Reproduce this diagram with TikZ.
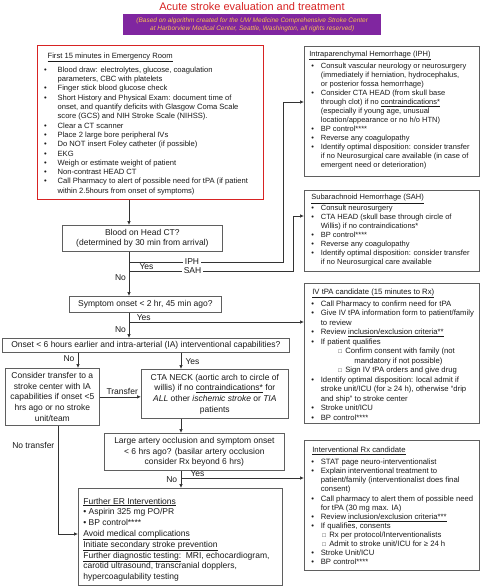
\documentclass[tikz,border=0pt]{standalone}
\usepackage{fontspec}
\setmainfont{Liberation Sans}
\usepackage{enumitem}
\usetikzlibrary{arrows.meta}
\definecolor{strokered}{RGB}{215,35,35}
\definecolor{notepurple}{RGB}{128,38,160}
\definecolor{noteorange}{RGB}{245,190,85}
\definecolor{boxgray}{RGB}{95,95,95}
\newlist{blist}{itemize}{2}
\setlist[blist]{nosep,labelsep=0pt,align=left,leftmargin=!}
\setlist[blist,1]{label=\textbullet,labelindent=4pt,labelwidth=9.5pt}
\setlist[blist,2]{label={\fontsize{6}{6}\selectfont □},labelindent=17.5pt,labelwidth=7pt}
% width, height, top gap, body
\newcommand{\boxbody}[4]{\begin{minipage}[c][#2][t]{#1}\rightskip=-30pt plus 1fil\parfillskip=0pt plus 1fil\vspace*{#3}#4\end{minipage}}
\tikzset{listbox/.style={draw=boxgray,line width=0.7pt,anchor=north west,inner xsep=3pt,inner ysep=0pt,text=black!90},cbox/.style={draw=boxgray,line width=0.7pt,anchor=north west,align=center,inner sep=0pt,text=black!90,font=\fontsize{8.5}{10.7}\selectfont},lbl/.style={font=\fontsize{8.5}{10}\selectfont,inner sep=0.5pt,text=black!90},arrow/.style={-{Latex[length=4pt,width=3.5pt]},draw=black!80,line width=0.7pt}}

\begin{document}
\begin{tikzpicture}[x=1pt,y=-1pt]
\useasboundingbox (0,0) rectangle (480,587);
\node[font=\fontsize{11}{12}\selectfont,text=strokered,inner sep=0pt] (title) at (252,6.5) {Acute stroke evaluation and treatment};
\node[anchor=north west,fill=notepurple,text=noteorange,minimum width=258pt,minimum height=21pt,inner sep=0pt,align=center,font=\fontsize{6.5}{7.6}\selectfont\itshape] (note) at (123,14) {(Based on algorithm created for the UW Medicine Comprehensive Stroke Center\\at Harborview Medical Center, Seattle, Washington, all rights reserved)};
% first hour, left column
\node[listbox,draw=strokered,line width=1.3pt,font=\fontsize{7.6}{9.3}\selectfont] (er) at (37,45) {\boxbody{220pt}{154pt}{7.2pt}{\hspace*{7pt}\underline{First 15 minutes in Emergency Room}\par\vspace{4.7pt}
\begin{blist}[labelindent=3.5pt,labelwidth=13.5pt]
\item Blood draw: electrolytes, glucose, coagulation\\parameters, CBC with platelets
\item Finger stick blood glucose check
\item Short History and Physical Exam: document time of\\onset, and quantify deficits with Glasgow Coma Scale\\score (GCS) and NIH Stroke Scale (NIHSS).
\item Clear a CT scanner
\item Place 2 large bore peripheral IVs
\item Do NOT insert Foley catheter (if possible)
\item EKG
\item Weigh or estimate weight of patient
\item Non-contrast HEAD CT
\item Call Pharmacy to alert of possible need for tPA (if patient\\within 2.5hours from onset of symptoms)
\end{blist}}};
\node[cbox,minimum width=160pt,minimum height=26pt] (ct) at (62,225) {Blood on Head CT?\\(determined by 30 min from arrival)};
\node[cbox,minimum width=152pt,minimum height=16pt] (onset) at (69,296) {Symptom onset < 2 hr, 45 min ago?};
\node[cbox,minimum width=287pt,minimum height=14pt] (ia) at (2,338) {Onset < 6 hours earlier and intra-arterial (IA) interventional capabilities?};
\node[cbox,minimum width=94pt,minimum height=57pt] (transfer) at (5,368) {Consider transfer to a\\stroke center with IA\\capabilities if onset <5\\hrs ago or no stroke\\unit/team};
\node[cbox,minimum width=147pt,minimum height=49pt] (cta) at (141,369) {CTA NECK (aortic arch to circle of\\willis) if no \underline{contraindications*} for\\\textit{ALL} other \textit{ischemic stroke} or \textit{TIA}\\patients};
\node[cbox,minimum width=180pt,minimum height=37pt] (large) at (104,433) {Large artery occlusion and symptom onset\\< 6 hrs ago? (basilar artery occlusion\\consider Rx beyond 6 hrs)};
\node[listbox,inner xsep=5pt,font=\fontsize{8.5}{10.8}\selectfont] (er2) at (78,488) {\boxbody{194pt}{97pt}{9.6pt}{\underline{Further ER Interventions}\\
\textbullet\ Aspirin 325 mg PO/PR\\
\textbullet\ BP control****\\
\underline{Avoid medical complications}\\
\underline{Initiate secondary stroke prevention}\\
\underline{Further diagnostic testing:}\ \ MRI, echocardiogram,\\
carotid ultrasound, transcranial dopplers,\\
hypercoagulability testing}};
% right column
\node[listbox,font=\fontsize{7.5}{9}\selectfont] (iph) at (304,46) {\boxbody{169pt}{130pt}{4.5pt}{\hspace*{2pt}\underline{Intraparenchymal Hemorrhage (IPH)}\par\vspace{3.4pt}
\begin{blist}
\item Consult vascular neurology or neurosurgery\\(immediately if herniation, hydrocephalus,\\or posterior fossa hemorrhage)
\item Consider CTA HEAD (from skull base\\through clot) if no \underline{contraindications*}\\(especially if young age, unusual\\location/appearance or no h/o HTN)
\item BP control****
\item Reverse any coagulopathy
\item Identify optimal disposition: consider transfer\\if no Neurosurgical care available (in case of\\emergent need or deterioration)
\end{blist}}};
\node[listbox,font=\fontsize{7.5}{9}\selectfont] (sah) at (304,190) {\boxbody{169pt}{81pt}{4.2pt}{\hspace*{4pt}\underline{Subarachnoid Hemorrhage (SAH)}\par\vspace{1.5pt}
\begin{blist}
\item Consult neurosurgery
\item CTA HEAD (skull base through circle of\\Willis) if no contraindications*
\item BP control****
\item Reverse any coagulopathy
\item Identify optimal disposition: consider transfer\\if no Neurosurgical care available
\end{blist}}};
\node[listbox,font=\fontsize{7.7}{9.5}\selectfont] (tpa) at (304,283) {\boxbody{169pt}{140pt}{5.2pt}{\hspace*{5pt}\underline{IV tPA candidate (15 minutes to Rx)}\par\vspace{2.5pt}
\begin{blist}
\item Call Pharmacy to confirm need for tPA
\item Give IV tPA information form to patient/family\\to review
\item Review \underline{inclusion/exclusion criteria**}
\item If patient qualifies
\begin{blist}
\item Confirm consent with family (not\\\hspace*{9pt}mandatory if not possible)
\item Sign IV tPA orders and give drug
\end{blist}
\item Identify optimal disposition: local admit if\\stroke unit/ICU (for ≥ 24 h), otherwise ``drip\\and ship'' to stroke center
\item Stroke unit/ICU
\item BP control****
\end{blist}}};
\node[listbox,font=\fontsize{7.7}{9.1}\selectfont] (interv) at (304,440) {\boxbody{169pt}{130pt}{6.7pt}{\hspace*{5pt}\underline{Interventional Rx candidate}\par\vspace{2.9pt}
\begin{blist}
\item STAT page neuro-interventionalist
\item Explain interventional treatment to\\patient/family (interventionalist does final\\consent)
\item Call pharmacy to alert them of possible need\\for tPA (30 mg max. IA)
\item Review \underline{inclusion/exclusion criteria***}
\item If qualifies, consents
\begin{blist}[labelindent=1.5pt]
\item Rx per protocol/Interventionalists
\item Admit to stroke unit/ICU for ≥ 24 h
\end{blist}
\item Stroke Unit/ICU
\item BP control****
\end{blist}}};
% connector points
\coordinate (spine) at (129,0);
\coordinate (spine2) at (181,0);
\coordinate (noleft) at (78,0);
\coordinate (iphin) at (304,102);
\coordinate (sahin) at (304,216);
\coordinate (iphfork) at (129,262);
\coordinate (sahfork) at (129,271);
\coordinate (tpafork) at (129,322);
\coordinate (intfork) at (181,478);
\coordinate (notrans) at (58,534);
\draw[arrow] (er.south -| spine) -- (ct.north -| spine);
\draw[arrow] (ct.south -| spine) -- (onset.north -| spine);
\draw[arrow] (iphfork) -| ([xshift=-21pt]iphin) -- (iphin);
\draw[arrow] (sahfork) -| ([xshift=-11pt]sahin) -- (sahin);
\draw[arrow] (onset.south -| spine) -- (ia.north -| spine);
\draw[arrow] (tpafork) -- (tpafork -| tpa.west);
\draw[arrow] (ia.south -| noleft) -- (transfer.north -| noleft);
\draw[arrow] (ia.south -| spine2) -- (cta.north -| spine2);
\draw[arrow] (transfer.east) -- (transfer.east -| cta.west);
\draw[arrow] (cta.south -| spine2) -- (large.north -| spine2);
\draw[arrow] (large.south -| spine2) -- (er2.north -| spine2);
\draw[arrow] (intfork) -- (intfork -| interv.west);
\draw[arrow] (transfer.south -| notrans) |- (notrans -| er2.west);
% branch labels
\node[lbl,fill=white,inner xsep=2pt] (iphlbl) at (192,262) {IPH};
\node[lbl,fill=white,inner xsep=2pt] (sahlbl) at (192.5,271) {SAH};
\node[lbl] (ctyes) at (146.5,266.5) {Yes};
\node[lbl] (ctno) at (120.5,278) {No};
\node[lbl] (onsetyes) at (143.7,317.5) {Yes};
\node[lbl] (onsetno) at (120.5,329.5) {No};
\node[lbl] (iano) at (69,359) {No};
\node[lbl] (iayes) at (192.5,362) {Yes};
\node[lbl] (translbl) at (122.2,391) {Transfer};
\node[lbl] (notranslbl) at (33.3,445) {No transfer};
\node[lbl] (largeno) at (171.7,480) {No};
\node[lbl] (largeyes) at (197.5,474) {Yes};
\end{tikzpicture}
\end{document}
